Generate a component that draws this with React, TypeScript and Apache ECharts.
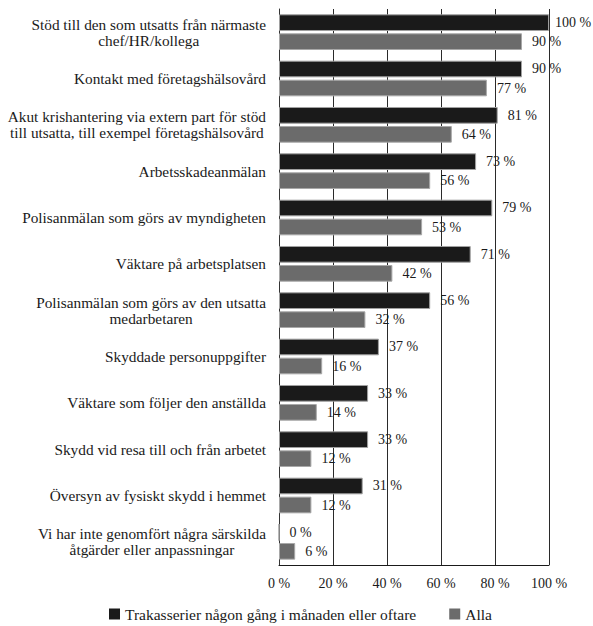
import React, { useEffect, useRef } from "react";
import * as echarts from "echarts";

const categories: string[] = [
  "Stöd till den som utsatts från närmaste\nchef/HR/kollega",
  "Kontakt med företagshälsovård",
  "Akut krishantering via extern part för stöd\ntill utsatta, till exempel företagshälsovård",
  "Arbetsskadeanmälan",
  "Polisanmälan som görs av myndigheten",
  "Väktare på arbetsplatsen",
  "Polisanmälan som görs av den utsatta\nmedarbetaren",
  "Skyddade personuppgifter",
  "Väktare som följer den anställda",
  "Skydd vid resa till och från arbetet",
  "Översyn av fysiskt skydd i hemmet",
  "Vi har inte genomfört några särskilda\nåtgärder eller anpassningar",
];

const seriesNames: string[] = ["Trakasserier någon gång i månaden eller oftare", "Alla"];
const trakasserier: number[] = [100, 90, 81, 73, 79, 71, 56, 37, 33, 33, 31, 0];
const alla: number[] = [90, 77, 64, 56, 53, 42, 32, 16, 14, 12, 12, 6];
const xTicks: number[] = [0, 20, 40, 60, 80, 100];

const FONT = "Liberation Serif";

export default function App() {
  const ref = useRef<HTMLDivElement>(null);
  useEffect(() => {
    if (!ref.current) return;
    const chart = echarts.init(ref.current, null, { renderer: "svg" });
    const labelStyle = {
      show: true,
      position: "right" as const,
      distance: 10,
      formatter: (p: any) => `${p.value} %`,
      fontFamily: FONT,
      fontSize: 14,
      color: "#1a1a1a",
    };
    chart.setOption({
      animation: false,
      textStyle: { fontFamily: FONT },
      grid: { left: 279, right: 44, top: 9, bottom: 61, containLabel: false },
      legend: {
        left: 109,
        top: 606,
        padding: 0,
        itemWidth: 11,
        itemHeight: 11,
        itemGap: 33,
        icon: "rect",
        itemStyle: { borderWidth: 0 },
        textStyle: { fontFamily: FONT, fontSize: 15.5, color: "#1a1a1a" },
        data: seriesNames,
      },
      xAxis: {
        type: "value",
        min: xTicks[0],
        max: xTicks[xTicks.length - 1],
        interval: 20,
        axisLine: { show: true, lineStyle: { color: "#1a1a1a", width: 1 } },
        axisTick: { show: false },
        splitLine: { show: true, lineStyle: { color: "#2a2a2a", width: 1 } },
        axisLabel: {
          margin: 11,
          fontFamily: FONT,
          fontSize: 14,
          color: "#1a1a1a",
          formatter: (v: number) => `${v} %`,
        },
      },
      yAxis: {
        type: "category",
        inverse: true,
        data: categories,
        axisLine: { show: true, lineStyle: { color: "#333", width: 1 } },
        axisTick: { show: false },
        axisLabel: {
          margin: 13,
          fontFamily: FONT,
          fontSize: 15.3,
          color: "#1a1a1a",
          lineHeight: 16,
          formatter: (v: string) =>
            v
              .split("\n")
              .map((l) => `{c|${l}}`)
              .join("\n"),
          rich: {
            c: { align: "center", fontFamily: FONT, fontSize: 15.3, color: "#1a1a1a", lineHeight: 16 },
          },
        },
      },
      series: [
        {
          name: seriesNames[0],
          type: "bar",
          data: trakasserier.map((v) => (v === 100 ? { value: v, label: { distance: 6 } } : v)),
          barCategoryGap: "23%",
          barGap: "14%",
          itemStyle: { color: "#1a1a1a", borderColor: "#a0a0a0", borderWidth: 1 },
          label: labelStyle,
        },
        {
          name: seriesNames[1],
          type: "bar",
          data: alla,
          barCategoryGap: "23%",
          barGap: "14%",
          itemStyle: { color: "#6b6b6b", borderColor: "#a8a8a8", borderWidth: 1 },
          label: labelStyle,
        },
      ],
    });
    return () => chart.dispose();
  }, []);
  return (
    <div
      ref={ref}
      style={{ position: "fixed", left: 0, top: 0, width: 593, height: 626, background: "#fff" }}
    />
  );
}
